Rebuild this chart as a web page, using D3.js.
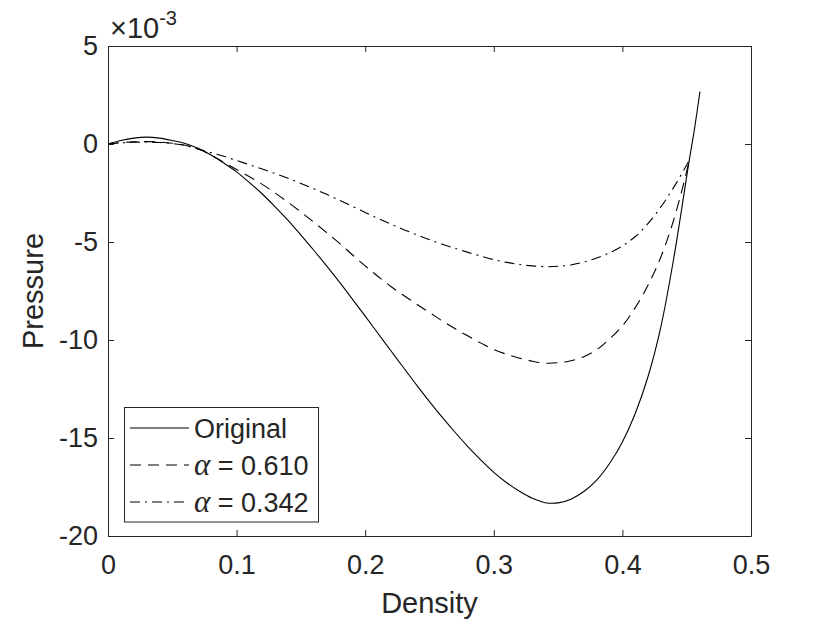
<!DOCTYPE html>
<html>
<head>
<meta charset="utf-8">
<script src="https://cdn.jsdelivr.net/npm/d3@7"></script>
<style>
  body { margin: 0; background: #fff; }
  text { font-family: "Liberation Sans", Arial, sans-serif; fill: #262626; }
</style>
</head>
<body>
<div id="chart"></div>
<script>
var width = 830,
    height = 623;

var margin = { left: 108, right: 79, top: 46, bottom: 87 };

// density samples and pressure values (units of 1e-3)
var density = [0, 0.01, 0.02, 0.03, 0.04, 0.05, 0.06, 0.07, 0.08, 0.09,
  0.10, 0.11, 0.12, 0.13, 0.14, 0.15, 0.16, 0.17, 0.18, 0.19,
  0.20, 0.21, 0.22, 0.23, 0.24, 0.25, 0.26, 0.27, 0.28, 0.29,
  0.30, 0.31, 0.32, 0.33, 0.34, 0.35, 0.36, 0.37, 0.38, 0.39,
  0.40, 0.41, 0.42, 0.43, 0.44, 0.45, 0.452, 0.456, 0.4603];

var original = [0, 0.18, 0.30, 0.35, 0.30, 0.18, 0.03, -0.22, -0.56, -0.97,
  -1.42, -1.97, -2.55, -3.21, -3.90, -4.65, -5.42, -6.22, -7.05, -7.91,
  -8.78, -9.67, -10.55, -11.43, -12.3, -13.14, -13.95, -14.72, -15.45, -16.13,
  -16.75, -17.28, -17.72, -18.08, -18.30, -18.31, -18.12, -17.73, -17.15, -16.3,
  -15.2, -13.75, -11.85, -9.3, -5.8, -1.65, -0.82, 0.75, 2.67];

var alpha610 = [0, 0.07, 0.11, 0.12, 0.10, 0.04, -0.06, -0.24, -0.56, -0.93,
  -1.30, -1.67, -2.06, -2.50, -2.97, -3.47, -3.99, -4.52, -5.07, -5.65,
  -6.22, -6.76, -7.27, -7.73, -8.17, -8.60, -9.03, -9.43, -9.80, -10.16,
  -10.49, -10.73, -10.93, -11.08, -11.18, -11.16, -11.06, -10.85, -10.5, -9.95,
  -9.28, -8.35, -7.2, -5.75, -3.85, -1.4, -0.82];

var alpha342 = [0, 0.06, 0.09, 0.10, 0.08, 0.02, -0.08, -0.26, -0.44, -0.63,
  -0.84, -1.06, -1.28, -1.51, -1.75, -2.01, -2.28, -2.57, -2.87, -3.18,
  -3.49, -3.80, -4.09, -4.37, -4.63, -4.88, -5.12, -5.33, -5.53, -5.72,
  -5.9, -6.04, -6.15, -6.22, -6.26, -6.24, -6.17, -6.02, -5.82, -5.55,
  -5.2, -4.72, -4.05, -3.2, -2.2, -1.07, -0.82];

var xTicks = [0, 0.1, 0.2, 0.3, 0.4, 0.5];
var yTicks = [5, 0, -5, -10, -15, -20];

var seriesNames = ["Original", "\u03b1 = 0.610", "\u03b1 = 0.342"];
var dashes = ["none", "11,7", "10,5,2,5"];
var seriesData = [original, alpha610, alpha342];

var svg = d3.select("#chart")
  .append("svg")
  .attr("width", width)
  .attr("height", height);

var x = d3.scaleLinear()
  .domain([0, 0.5])
  .range([margin.left, width - margin.right]);

var y = d3.scaleLinear()
  .domain([-20, 5])
  .range([height - margin.bottom, margin.top]);

var axisColor = "#262626";
var tickLen = 6;

// axes (box on, ticks inward)
function styleAxis(g) {
  g.select(".domain").attr("stroke", axisColor);
  g.selectAll(".tick line").attr("stroke", axisColor);
  g.selectAll(".tick text")
    .attr("fill", axisColor)
    .style("font-size", "27px")
    .style("font-family", "Liberation Sans, Arial, sans-serif");
}

svg.append("g")
  .attr("transform", "translate(0," + y(-20) + ")")
  .call(d3.axisBottom(x).tickValues(xTicks).tickSize(-tickLen).tickSizeOuter(0)
    .tickPadding(19).tickFormat(d3.format("")))
  .call(styleAxis);

svg.append("g")
  .attr("transform", "translate(0," + y(5) + ")")
  .call(d3.axisTop(x).tickValues(xTicks).tickSize(-tickLen).tickSizeOuter(0).tickFormat(""))
  .call(styleAxis);

svg.append("g")
  .attr("transform", "translate(" + x(0) + ",0)")
  .call(d3.axisLeft(y).tickValues(yTicks).tickSize(-tickLen).tickSizeOuter(0)
    .tickPadding(10).tickFormat(d3.format("")))
  .call(styleAxis);

svg.append("g")
  .attr("transform", "translate(" + x(0.5) + ",0)")
  .call(d3.axisRight(y).tickValues(yTicks).tickSize(-tickLen).tickSizeOuter(0).tickFormat(""))
  .call(styleAxis);

// MATLAB uses a plain hyphen for minus
svg.selectAll(".tick text").each(function() {
  var t = d3.select(this);
  t.text(t.text().replace("\u2212", "-"));
});

// exponent label
var expo = svg.append("text")
  .attr("x", 110)
  .attr("y", 38)
  .style("font-size", "29px");
expo.append("tspan").style("font-size", "29px").text("\u00d710");
expo.append("tspan").attr("dy", -13).style("font-size", "20px").text("-3");

// axis labels
svg.append("text")
  .attr("x", (x(0) + x(0.5)) / 2)
  .attr("y", 613)
  .attr("text-anchor", "middle")
  .style("font-size", "29px")
  .text("Density");

svg.append("text")
  .attr("transform", "translate(43," + (y(5) + y(-20)) / 2 + ") rotate(-90)")
  .attr("text-anchor", "middle")
  .style("font-size", "29px")
  .text("Pressure");

// curves
var line = d3.line()
  .x(function(d) { return x(d[0]); })
  .y(function(d) { return y(d[1]); })
  .curve(d3.curveCatmullRom.alpha(0.5));

seriesData.forEach(function(vals, i) {
  var pts = vals.map(function(v, j) { return [density[j], v]; });
  svg.append("path")
    .datum(pts)
    .attr("fill", "none")
    .attr("stroke", "#000")
    .attr("stroke-width", 1.1)
    .attr("stroke-dasharray", dashes[i])
    .attr("d", line);
});

// legend
var legend = svg.append("g").attr("class", "legend");

legend.append("rect")
  .attr("x", 124.5)
  .attr("y", 407.5)
  .attr("width", 194)
  .attr("height", 114.5)
  .attr("fill", "#fff")
  .attr("stroke", axisColor);

var rowY = [428, 465, 502];

var items = legend.selectAll("g.item")
  .data(seriesNames)
  .enter()
  .append("g")
  .attr("class", "item")
  .attr("transform", function(d, i) { return "translate(0," + rowY[i] + ")"; });

items.append("line")
  .attr("x1", 130)
  .attr("x2", 189)
  .attr("stroke", "#000")
  .attr("stroke-width", 1.1)
  .attr("stroke-dasharray", function(d, i) { return dashes[i]; });

items.append("text")
  .attr("x", 194)
  .attr("y", 9.5)
  .style("font-size", "27px")
  .each(function(d, i) {
    var t = d3.select(this);
    if (i === 0) {
      t.text(d);
    } else {
      t.append("tspan")
        .style("font-family", "Liberation Serif, serif")
        .style("font-style", "italic")
        .style("font-size", "31px")
        .text("\u03b1");
      t.append("tspan").text(d.slice(1));
    }
  });
</script>
</body>
</html>
